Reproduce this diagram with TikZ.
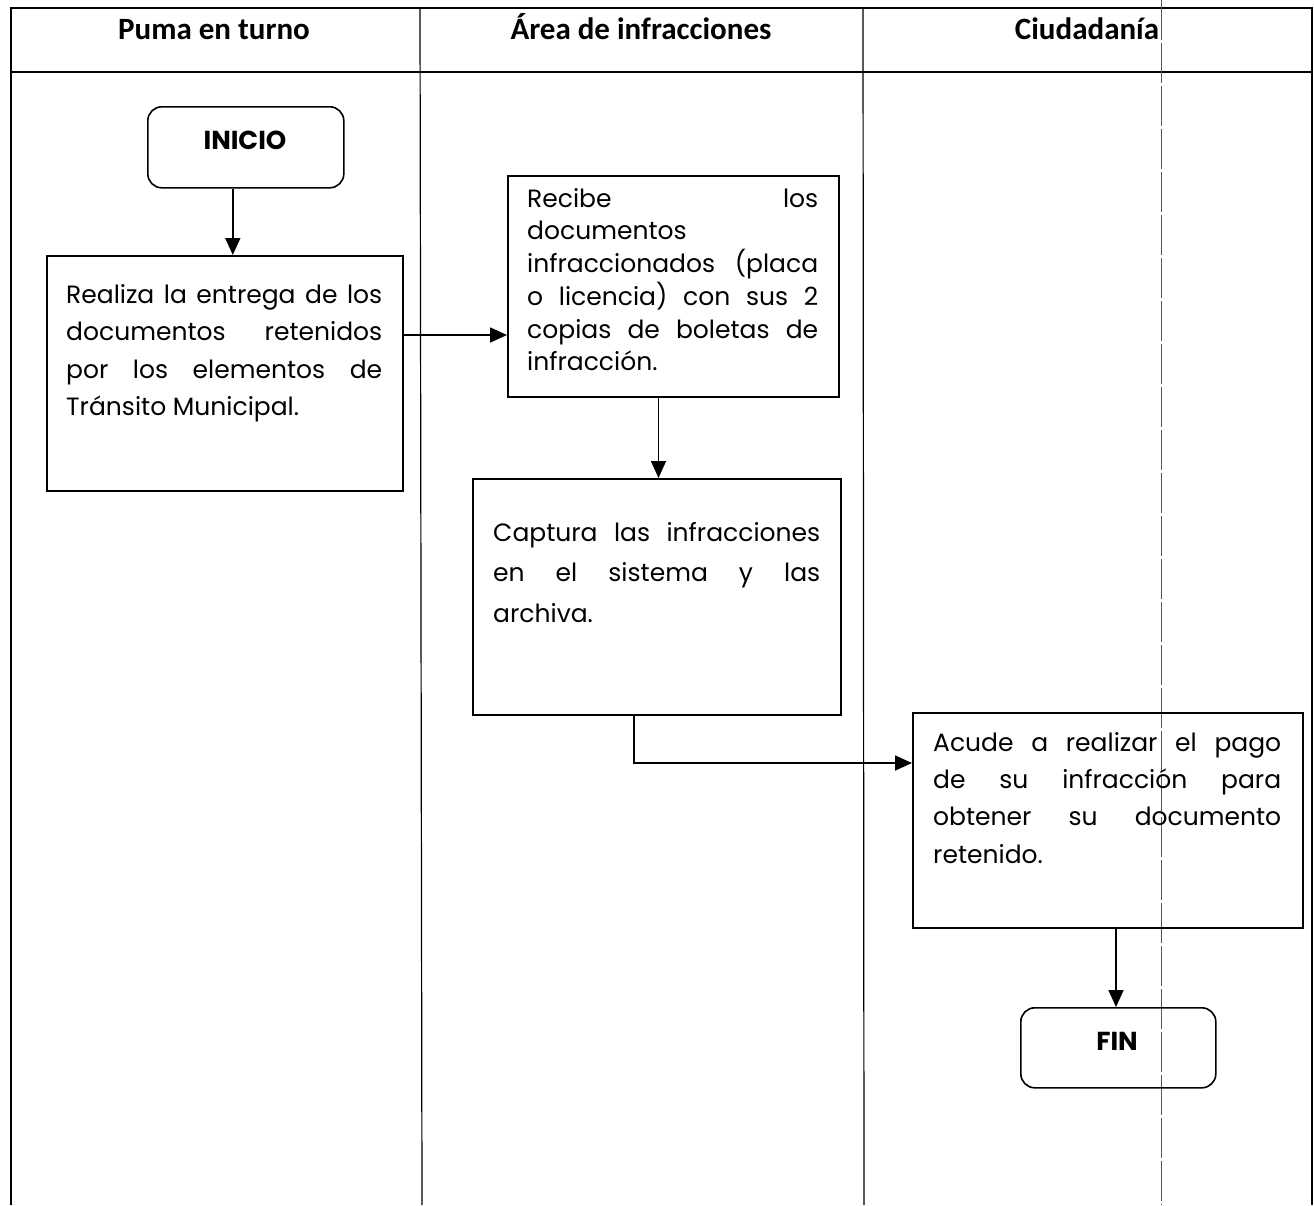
\documentclass[tikz,border=0pt]{standalone}
\usepackage{fontspec}
\setmainfont{Poppins}
\newfontfamily\headfont{Carlito}
\usetikzlibrary{arrows.meta}
\tikzset{
  grid/.style={line width=1.2pt, black},
  procbox/.style={draw, line width=2pt, anchor=north west, inner sep=0pt},
  termbox/.style={draw, line width=1.6pt, rounded corners=14pt, anchor=north west, inner sep=0pt},
  bodytext/.style={anchor=north west, inner sep=0pt},
  headtext/.style={font=\headfont\bfseries\fontsize{31}{36}\selectfont, anchor=base},
  termtext/.style={font=\bfseries\fontsize{26}{30}\selectfont, anchor=base},
  flow/.style={line width=1.6pt, -{Triangle[length=17pt,width=15pt]}},
}
\begin{document}
\begin{tikzpicture}[x=1pt,y=-1pt]
\useasboundingbox (0,0) rectangle (1314,1205);
% table frame and lanes
\draw[grid] (11,1205) -- (11,8) -- (1312,8) -- (1312,1205);
\draw[grid] (11,72) -- (1312,72);
\draw[grid] (420,8) -- (422,1205);
\draw[grid] (863,8) -- (864,1205);
\draw[line width=0.7pt, gray!70!black, dash pattern=on 40pt off 3pt] (1161,0) -- (1161,1205);
% lane headings
\node[headtext] (h1) at (214,39) {Puma en turno};
\node[headtext] (h2) at (641,39) {Área de infracciones};
\node[headtext] (h3) at (1087,39) {Ciudadanía};
% terminals
\node[termbox, minimum width=196pt, minimum height=81pt] (inicio) at (147,106) {};
\node[termtext] (tinicio) at (245,149) {INICIO};
\node[termbox, minimum width=195pt, minimum height=80pt] (fin) at (1020,1007) {};
\node[termtext] (tfin) at (1117,1050) {FIN};
% process boxes
\node[procbox, minimum width=356pt, minimum height=235pt] (b1) at (46,255) {};
\node[bodytext] (t1) at (66,284) {\begin{minipage}[t]{316pt}\fontsize{25}{37.5}\selectfont
Realiza la entrega de los\linebreak documentos retenidos\linebreak por los elementos de\linebreak Tránsito Municipal.\end{minipage}};
\node[procbox, minimum width=331pt, minimum height=221pt] (b2) at (507,175) {};
\node[bodytext] (t2) at (527,188) {\begin{minipage}[t]{291pt}\fontsize{25}{32.7}\selectfont
Recibe los\linebreak documentos\\ infraccionados (placa\linebreak o licencia) con sus 2\linebreak copias de boletas de\linebreak infracción.\end{minipage}};
\node[procbox, minimum width=368pt, minimum height=236pt] (b3) at (472,478) {};
\node[bodytext] (t3) at (493,522) {\begin{minipage}[t]{327pt}\fontsize{25}{40.5}\selectfont
Captura las infracciones\linebreak en el sistema y las\linebreak archiva.\end{minipage}};
\node[procbox, minimum width=390pt, minimum height=215pt] (b4) at (912,712) {};
\node[bodytext] (t4) at (933,732) {\begin{minipage}[t]{348pt}\fontsize{25}{37.3}\selectfont
Acude a realizar el pago\linebreak de su infracción para\linebreak obtener su documento\linebreak retenido.\end{minipage}};
% flow connectors
\draw[flow] ([xshift=-13pt]inicio.south) -- ([xshift=-13pt]inicio.south |- b1.north);
\draw[flow] ([yshift=-80pt]b1.north east) -- ([yshift=-80pt]b1.north east -| b2.west);
\draw[flow] ([xshift=-15pt]b2.south) -- ([xshift=-15pt]b2.south |- b3.north);
\draw[flow] ([xshift=-23pt]b3.south) |- ([yshift=-51pt]b4.north west);
\draw[flow] ([xshift=8pt]b4.south) -- ([xshift=8pt]b4.south |- fin.north);
\end{tikzpicture}
\end{document}
